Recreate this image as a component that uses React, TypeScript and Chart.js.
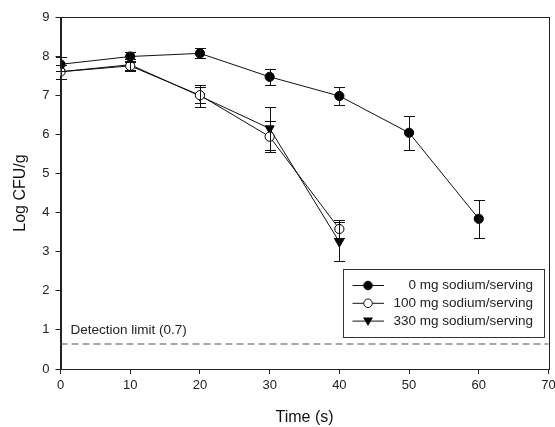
import React, { useEffect, useRef } from "react";
import { Chart, registerables } from "chart.js";

Chart.register(...registerables);

const times = [0, 10, 20, 30, 40, 50, 60];
const labels0 = "0 mg sodium/serving";
const labels100 = "100 mg sodium/serving";
const labels330 = "330 mg sodium/serving";
const values0 = [7.79, 7.99, 8.07, 7.47, 6.98, 6.04, 3.84];
const errors0 = [0.18, 0.12, 0.13, 0.2, 0.22, 0.43, 0.48];
const values100 = [7.6, 7.75, 7.0, 5.94, 3.58];
const errors100 = [0.18, 0.1, 0.2, 0.4, 0.22];
const values330 = [7.6, 7.78, 6.98, 6.15, 3.25];
const errors330 = [0.18, 0.15, 0.27, 0.55, 0.5];
const detectionLimit = 0.64;
const detectionLabel = "Detection limit (0.7)";
const xTitle = "Time (s)";
const yTitle = "Log CFU/g";

const FONT = "'Liberation Sans', Arial, sans-serif";

const errs = [errors0, errors100, errors330];

const errorBarPlugin = {
  id: "errorBars",
  afterDatasetsDraw(chart: any) {
    const ctx = chart.ctx;
    const xs = chart.scales.x;
    const ys = chart.scales.y;
    ctx.save();
    ctx.strokeStyle = "#111";
    ctx.lineWidth = 1;
    chart.data.datasets.forEach((ds: any, i: number) => {
      ds.data.forEach((p: any, j: number) => {
        const e = errs[i][j];
        const x = Math.round(xs.getPixelForValue(p.x)) + 0.5;
        const y1 = Math.round(ys.getPixelForValue(p.y + e)) + 0.5;
        const y2 = Math.round(ys.getPixelForValue(p.y - e)) + 0.5;
        ctx.beginPath();
        ctx.moveTo(x, y1);
        ctx.lineTo(x, y2);
        ctx.moveTo(x - 5.5, y1);
        ctx.lineTo(x + 5.5, y1);
        ctx.moveTo(x - 5.5, y2);
        ctx.lineTo(x + 5.5, y2);
        ctx.stroke();
      });
    });
    ctx.restore();
  },
};

const decorPlugin = {
  id: "decor",
  beforeDatasetsDraw(chart: any) {
    const ctx = chart.ctx;
    const a = chart.chartArea;
    const ys = chart.scales.y;
    const yd = ys.getPixelForValue(detectionLimit);
    ctx.save();
    ctx.strokeStyle = "#8a8a8a";
    ctx.lineWidth = 1.5;
    ctx.setLineDash([7, 4]);
    ctx.beginPath();
    ctx.moveTo(a.left, yd);
    ctx.lineTo(a.right, yd);
    ctx.stroke();
    ctx.setLineDash([]);
    ctx.fillStyle = "#222";
    ctx.font = `13.5px ${FONT}`;
    ctx.textAlign = "left";
    ctx.textBaseline = "middle";
    ctx.fillText(detectionLabel, a.left + 10, yd - 14);
    ctx.restore();
  },
  afterDraw(chart: any) {
    const ctx = chart.ctx;
    const a = chart.chartArea;
    ctx.save();
    ctx.strokeStyle = "#222";
    ctx.lineWidth = 1;
    ctx.strokeRect(Math.round(a.left) + 0.5, Math.round(a.top) + 0.5, Math.round(a.right - a.left), Math.round(a.bottom - a.top));
    // legend
    const L = Math.round(a.right) - 206;
    const T = Math.round(a.bottom) - 100;
    const W = 201;
    const H = 68;
    ctx.fillStyle = "#fff";
    ctx.fillRect(L, T, W, H);
    ctx.strokeStyle = "#333";
    ctx.strokeRect(L + 0.5, T + 0.5, W, H);
    const names = [labels0, labels100, labels330];
    names.forEach((n, i) => {
      const y = T + 16.5 + i * 17.8;
      ctx.strokeStyle = "#111";
      ctx.lineWidth = 1;
      ctx.beginPath();
      ctx.moveTo(L + 9.5, y);
      ctx.lineTo(L + 41, y);
      ctx.stroke();
      const mx = L + 25;
      ctx.beginPath();
      if (i === 2) {
        ctx.moveTo(mx - 5, y - 3.5);
        ctx.lineTo(mx + 5, y - 3.5);
        ctx.lineTo(mx, y + 5);
        ctx.closePath();
        ctx.fillStyle = "#000";
        ctx.fill();
      } else {
        ctx.arc(mx, y, 4.3, 0, Math.PI * 2);
        ctx.fillStyle = i === 0 ? "#000" : "#fff";
        ctx.fill();
        ctx.stroke();
      }
      ctx.fillStyle = "#222";
      ctx.font = `13.5px ${FONT}`;
      ctx.textAlign = "right";
      ctx.textBaseline = "middle";
      ctx.fillText(n, L + 190, y);
    });
    ctx.restore();
  },
};

export default function App() {
  const ref = useRef<HTMLCanvasElement>(null);
  useEffect(() => {
    if (!ref.current) return;
    const toPts = (vals: number[]) => vals.map((v, i) => ({ x: times[i], y: v }));
    const chart = new Chart(ref.current, {
      type: "line",
      data: {
        datasets: [
          {
            label: labels0,
            data: toPts(values0),
            borderColor: "#111",
            borderWidth: 1,
            pointStyle: "circle",
            pointRadius: 4.6,
            pointBackgroundColor: "#000",
            pointBorderColor: "#000",
            pointBorderWidth: 1,
          },
          {
            label: labels100,
            data: toPts(values100),
            borderColor: "#111",
            borderWidth: 1,
            pointStyle: "circle",
            pointRadius: 4.6,
            pointBackgroundColor: "#fff",
            pointBorderColor: "#000",
            pointBorderWidth: 1,
          },
          {
            label: labels330,
            data: toPts(values330),
            borderColor: "#111",
            borderWidth: 1,
            pointStyle: "triangle",
            rotation: 180,
            pointRadius: 5.2,
            pointBackgroundColor: "#000",
            pointBorderColor: "#000",
            pointBorderWidth: 1,
          } as any,
        ],
      },
      options: {
        animation: false,
        responsive: false,
        layout: { autoPadding: false, padding: { top: 17, right: 6.5, left: 0, bottom: 0 } },
        plugins: { legend: { display: false }, tooltip: { enabled: false } },
        scales: {
          x: {
            type: "linear",
            min: 0,
            max: 70,
            ticks: { stepSize: 10, color: "#222", font: { family: FONT, size: 13 }, padding: 4 },
            grid: { drawOnChartArea: false, drawTicks: true, tickLength: 5, color: "#222" },
            border: { color: "#222" },
            title: { display: true, text: xTitle, color: "#111", font: { family: FONT, size: 16 }, padding: { top: 0, bottom: 0 } },
            afterFit: (s: any) => { s.height = 58; s.paddingLeft = 0; s.paddingRight = 0; },
          },
          y: {
            min: 0,
            max: 9,
            ticks: { stepSize: 1, color: "#222", font: { family: FONT, size: 13 }, padding: 6 },
            grid: { drawOnChartArea: false, drawTicks: true, tickLength: 5, color: "#222" },
            border: { color: "#222" },
            title: { display: true, text: yTitle, color: "#111", font: { family: FONT, size: 16 }, padding: { top: 11, bottom: 0 } },
            afterFit: (s: any) => { s.width = 60.5; s.paddingTop = 0; s.paddingBottom = 0; },
          },
        },
      } as any,
      plugins: [decorPlugin, errorBarPlugin],
    });
    return () => chart.destroy();
  }, []);
  return (
    <div style={{ position: "fixed", left: 0, top: 0, width: 555, height: 427, background: "#fff" }}>
      <canvas ref={ref} width={555} height={427} style={{ width: 555, height: 427 }} />
    </div>
  );
}
